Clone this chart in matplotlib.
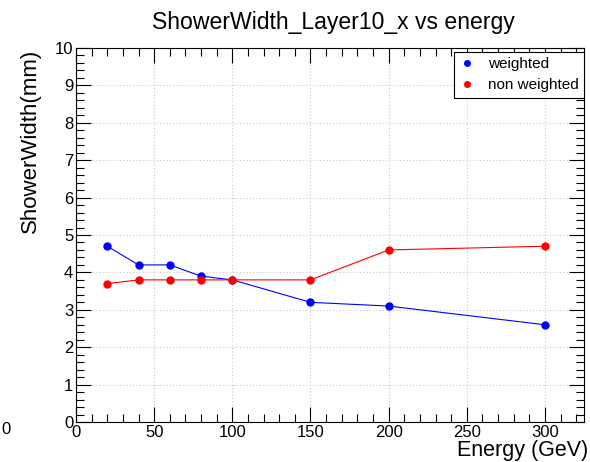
import matplotlib
matplotlib.use("Agg")
import matplotlib.pyplot as plt
from matplotlib.ticker import MultipleLocator

plt.rcParams['font.family'] = ['Liberation Sans', 'DejaVu Sans']

energy = [20, 40, 60, 80, 100, 150, 200, 300]
weighted = [4.7, 4.2, 4.2, 3.9, 3.8, 3.2, 3.1, 2.6]
non_weighted = [3.7, 3.8, 3.8, 3.8, 3.8, 3.8, 4.6, 4.7]

fig = plt.figure(figsize=(5.9, 4.62), dpi=100)
W, H = 590, 462
ax = fig.add_axes([76 / W, 1 - 422 / H, (584 - 76) / W, (422 - 48) / H])

ax.plot(energy, weighted, '-o', color='#0000ff', lw=0.8, ms=5, label='weighted')
ax.plot(energy, non_weighted, '-o', color='#ff0000', lw=0.8, ms=5, label='non weighted')

ax.set_xlim(0, 325)
ax.set_ylim(0, 10)
ax.xaxis.set_major_locator(MultipleLocator(50))
ax.xaxis.set_minor_locator(MultipleLocator(10))
ax.yaxis.set_major_locator(MultipleLocator(1))
ax.yaxis.set_minor_locator(MultipleLocator(0.2))
ax.tick_params(which='both', direction='in', top=True, right=True, labelsize=12, width=0.8, pad=2)
ax.tick_params(which='major', length=11)
ax.tick_params(which='minor', length=5.5)
ax.grid(True, which='major', linestyle=(0, (1, 2)), color='#c8c8c8', lw=0.8)
for s in ax.spines.values():
    s.set_linewidth(0.8)

fig.text(333 / W, 1 - 23 / H, 'ShowerWidth_Layer10_x vs energy', ha='center', va='center', fontsize=16.6)
fig.text(30 / W, 1 - 141 / H, 'ShowerWidth(mm)', ha='center', va='center', rotation=90, fontsize=16)
fig.text(588 / W, 1 - 456 / H, 'Energy (GeV)', ha='right', va='baseline', fontsize=15.5)
fig.text(1 / W, 1 - 430 / H, '0', ha='left', va='center', fontsize=12)

leg = ax.legend(loc='upper right', bbox_to_anchor=(1.0, 1 - 4 / 374), fancybox=False, framealpha=1,
                edgecolor='black', fontsize=11, handlelength=1.0, borderpad=0.35, labelspacing=0.45,
                handletextpad=0.9, borderaxespad=0, markerscale=0.8)
leg.get_frame().set_linewidth(0.8)
for h in leg.legend_handles:
    h.set_linestyle('None')

fig.savefig('out.png', dpi=100)
